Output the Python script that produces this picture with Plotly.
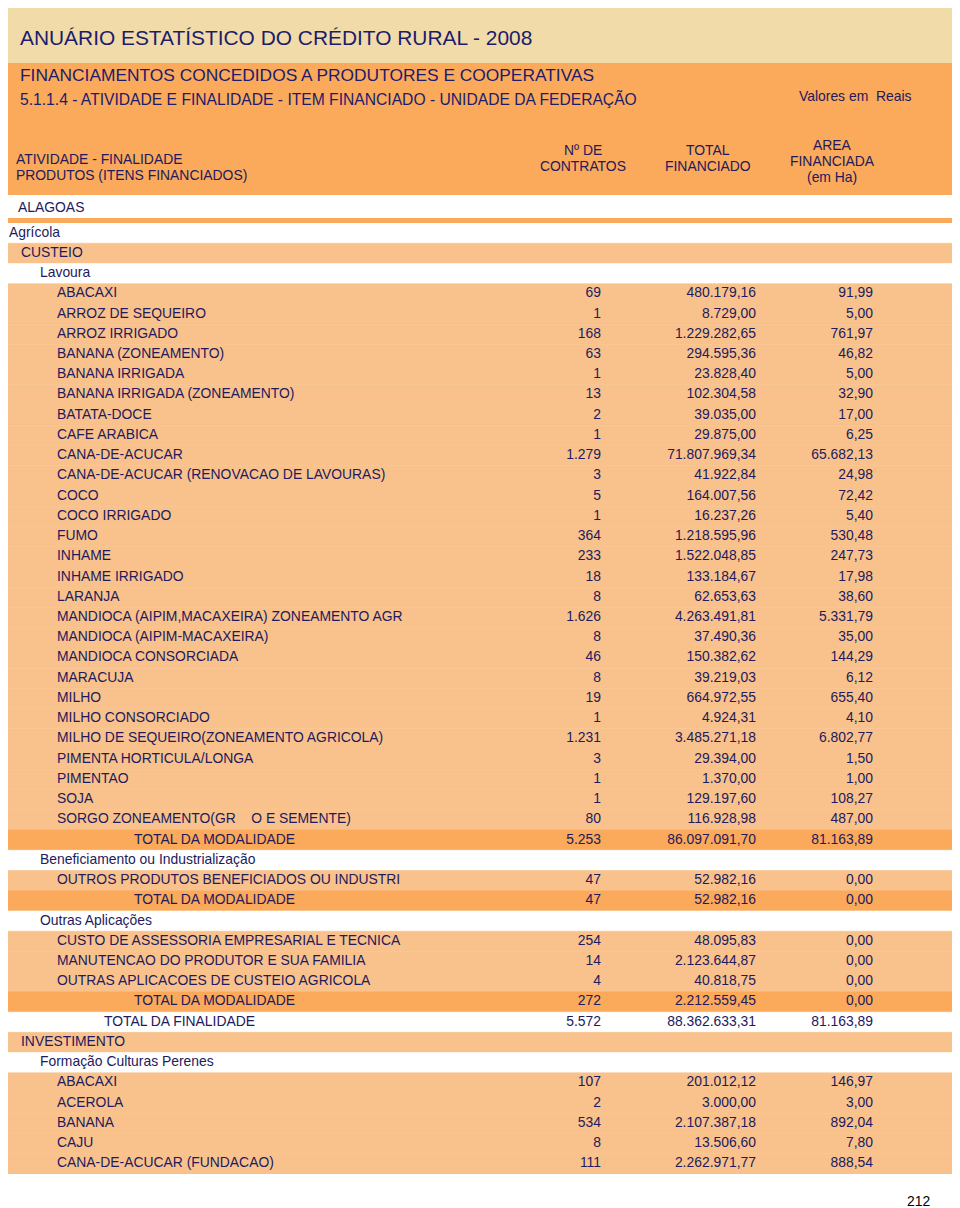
import plotly.graph_objects as go

# linhas da tabela (ALAGOAS)
rotulos = [
    "Agrícola", "CUSTEIO", "Lavoura",
    "ABACAXI", "ARROZ DE SEQUEIRO", "ARROZ IRRIGADO", "BANANA (ZONEAMENTO)",
    "BANANA IRRIGADA", "BANANA IRRIGADA (ZONEAMENTO)", "BATATA-DOCE", "CAFE ARABICA",
    "CANA-DE-ACUCAR", "CANA-DE-ACUCAR (RENOVACAO DE LAVOURAS)", "COCO", "COCO IRRIGADO",
    "FUMO", "INHAME", "INHAME IRRIGADO", "LARANJA",
    "MANDIOCA (AIPIM,MACAXEIRA) ZONEAMENTO AGR", "MANDIOCA (AIPIM-MACAXEIRA)",
    "MANDIOCA CONSORCIADA", "MARACUJA", "MILHO", "MILHO CONSORCIADO",
    "MILHO DE SEQUEIRO(ZONEAMENTO AGRICOLA)", "PIMENTA HORTICULA/LONGA", "PIMENTAO", "SOJA",
    "SORGO ZONEAMENTO(GR\u00a0\u00a0\u00a0\u00a0O E SEMENTE)",
    "TOTAL DA MODALIDADE",
    "Beneficiamento ou Industrialização",
    "OUTROS PRODUTOS BENEFICIADOS OU INDUSTRI",
    "TOTAL DA MODALIDADE",
    "Outras Aplicações",
    "CUSTO DE ASSESSORIA EMPRESARIAL E TECNICA",
    "MANUTENCAO DO PRODUTOR E SUA FAMILIA",
    "OUTRAS APLICACOES DE CUSTEIO AGRICOLA",
    "TOTAL DA MODALIDADE",
    "TOTAL DA FINALIDADE",
    "INVESTIMENTO", "Formação Culturas Perenes",
    "ABACAXI", "ACEROLA", "BANANA", "CAJU", "CANA-DE-ACUCAR (FUNDACAO)",
]

tipos = (["atividade", "finalidade", "modalidade"] + ["item"] * 27 + ["total_mod"]
         + ["modalidade", "item", "total_mod"]
         + ["modalidade"] + ["item"] * 3 + ["total_mod", "total_fin"]
         + ["finalidade", "modalidade"] + ["item"] * 5)

contratos = [None, None, None,
             69, 1, 168, 63, 1, 13, 2, 1, 1279, 3, 5, 1, 364, 233, 18, 8, 1626, 8, 46, 8,
             19, 1, 1231, 3, 1, 1, 80,
             5253,
             None, 47, 47,
             None, 254, 14, 4, 272,
             5572,
             None, None, 107, 2, 534, 8, 111]

total_financiado = [None, None, None,
                    480179.16, 8729.00, 1229282.65, 294595.36, 23828.40, 102304.58,
                    39035.00, 29875.00, 71807969.34, 41922.84, 164007.56, 16237.26,
                    1218595.96, 1522048.85, 133184.67, 62653.63, 4263491.81, 37490.36,
                    150382.62, 39219.03, 664972.55, 4924.31, 3485271.18, 29394.00,
                    1370.00, 129197.60, 116928.98,
                    86097091.70,
                    None, 52982.16, 52982.16,
                    None, 48095.83, 2123644.87, 40818.75, 2212559.45,
                    88362633.31,
                    None, None, 201012.12, 3000.00, 2107387.18, 13506.60, 2262971.77]

area_financiada = [None, None, None,
                   91.99, 5.00, 761.97, 46.82, 5.00, 32.90, 17.00, 6.25, 65682.13, 24.98,
                   72.42, 5.40, 530.48, 247.73, 17.98, 38.60, 5331.79, 35.00, 144.29, 6.12,
                   655.40, 4.10, 6802.77, 1.50, 1.00, 108.27, 487.00,
                   81163.89,
                   None, 0.00, 0.00,
                   None, 0.00, 0.00, 0.00, 0.00,
                   81163.89,
                   None, None, 146.97, 3.00, 892.04, 7.80, 888.54]

# a pagina tem 8px de margem no body: a figura ocupa o resto da janela
PAGE_W, PAGE_H = 960, 1208
OFF = 8
W, H = PAGE_W - OFF, PAGE_H - OFF

BEGE = "#f1dba9"
LARANJA = "#fba95a"
CLARO = "#f9c28c"
TEXTO = "#221a5c"
TITULO = "#1c1c6c"
FONTE = "Liberation Sans, Arial, sans-serif"
FS = 13.9

# estilo por tipo de linha: (inicio do texto em px, cor de fundo)
estilo = {
    "atividade": (9, "white"),
    "finalidade": (21, CLARO),
    "modalidade": (40, "white"),
    "item": (57, CLARO),
    "total_mod": (134, LARANJA),
    "total_fin": (104, "white"),
}

TAB_ESQ, TAB_DIR = 5, 957
TAB_TOPO, TAB_BASE = 223, 1174
COL_CONTR, COL_TOTAL, COL_AREA = 601, 756, 873


def br_int(v):
    return "" if v is None else f"{v:,}".replace(",", ".")


def br_dec(v):
    if v is None:
        return ""
    return f"{v:,.2f}".replace(",", "X").replace(".", ",").replace("X", ".")


n = len(rotulos)
idx = list(range(n))
cores = [estilo[t][1] for t in tipos]

fig = go.Figure()
fig.add_trace(go.Bar(
    y=idx, x=[TAB_DIR - TAB_ESQ] * n, base=TAB_ESQ, orientation="h", width=1,
    marker=dict(color=cores, line=dict(width=0.6, color=cores)),
    hoverinfo="skip",
))
fig.add_trace(go.Scatter(
    y=idx, x=[estilo[t][0] for t in tipos], mode="text", text=rotulos,
    textposition="middle right", textfont=dict(family=FONTE, size=FS, color=TEXTO),
    hoverinfo="skip", cliponaxis=False,
))
for col, vals in [(COL_CONTR, [br_int(v) for v in contratos]),
                  (COL_TOTAL, [br_dec(v) for v in total_financiado]),
                  (COL_AREA, [br_dec(v) for v in area_financiada])]:
    fig.add_trace(go.Scatter(
        y=idx, x=[col] * n, mode="text", text=vals,
        textposition="middle left", textfont=dict(family=FONTE, size=FS, color=TEXTO),
        hoverinfo="skip", cliponaxis=False,
    ))


def py(v):
    return 1 - (v - OFF) / H


def px(v):
    return (v - OFF) / W


def faixa(y0, y1, cor):
    return dict(type="rect", xref="paper", yref="paper", x0=px(TAB_ESQ), x1=px(TAB_DIR),
                y0=py(y1), y1=py(y0), fillcolor=cor, line_width=0, layer="below")


shapes = [faixa(1, 63, BEGE), faixa(63, 195, LARANJA), faixa(218, 223, LARANJA)]


def nota(texto, x, y, size=FS, xanchor="left", color=TEXTO):
    return dict(text=texto, x=px(x), y=py(y), xref="paper", yref="paper",
                xanchor=xanchor, yanchor="middle", showarrow=False,
                font=dict(family=FONTE, size=size, color=color))


def bloco(linhas, x, y_centro, xanchor="center", passo=16):
    y0 = y_centro - passo * (len(linhas) - 1) / 2
    return [nota(t, x, y0 + i * passo, xanchor=xanchor) for i, t in enumerate(linhas)]


annotations = [
    nota("ANUÁRIO ESTATÍSTICO DO CRÉDITO RURAL - 2008", 18, 37, size=20.9, color=TITULO),
    nota("FINANCIAMENTOS CONCEDIDOS A PRODUTORES E COOPERATIVAS", 18, 75, size=17.35,
         color=TITULO),
    nota("5.1.1.4 - ATIVIDADE E FINALIDADE - ITEM FINANCIADO - UNIDADE DA FEDERAÇÃO", 18, 99,
         size=15.65, color=TITULO),
    nota("Valores em\u00a0 Reais", 797, 96),
    nota("ALAGOAS", 16, 207),
    nota("212", 905, 1201, color="black"),
]
annotations += bloco(["ATIVIDADE - FINALIDADE", "PRODUTOS (ITENS FINANCIADOS)"], 14, 167,
                     xanchor="left")
annotations += bloco(["Nº DE", "CONTRATOS"], 583, 158)
annotations += bloco(["TOTAL", "FINANCIADO"], 708, 158)
annotations += bloco(["AREA", "FINANCIADA", "(em Ha)"], 832, 161)

fig.update_layout(
    width=W, height=H, margin=dict(l=0, r=0, t=0, b=0),
    paper_bgcolor="white", plot_bgcolor="white", showlegend=False,
    xaxis=dict(range=[OFF, OFF + W], visible=False, fixedrange=True),
    yaxis=dict(range=[n - 0.5, -0.5], domain=[py(TAB_BASE), py(TAB_TOPO)],
               visible=False, fixedrange=True),
    shapes=shapes, annotations=annotations,
)

fig.write_html("out.html")
